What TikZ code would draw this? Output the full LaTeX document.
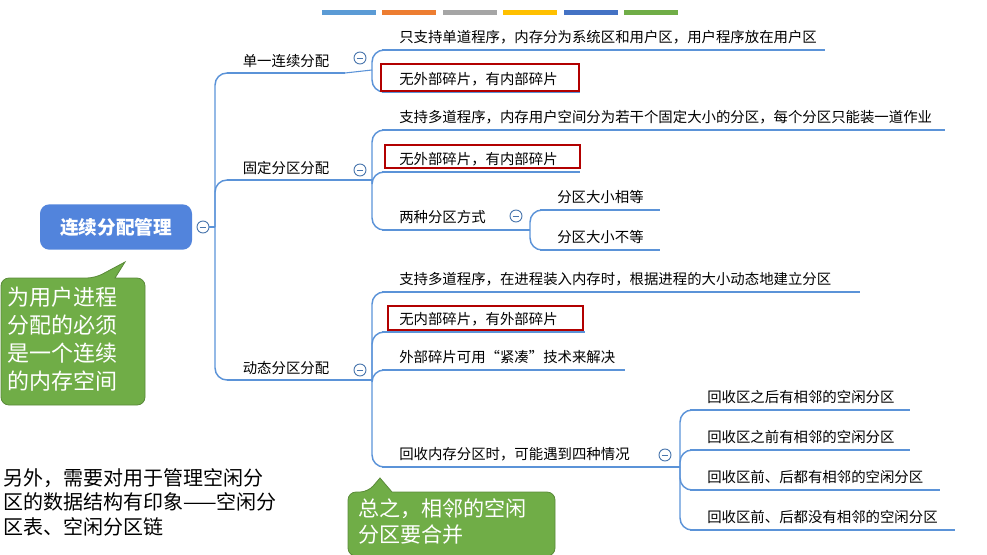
\documentclass[tikz,border=0pt]{standalone}
\usepackage{fontspec}
\setmainfont{Noto Sans CJK SC}
\begin{document}
\begin{tikzpicture}[x=0.75pt,y=-0.75pt,
  ul/.style={draw=lblue,line width=2.2pt},
  br/.style={draw=lblue,line width=1.1pt,rounded corners=9pt},
  leaf/.style={anchor=south west,inner sep=0pt,font=\fontsize{10.8}{12}\selectfont},
  redbox/.style={draw=red!70!black,line width=2pt},
  mins/.style={circle,draw=lblue!80!black,fill=white,line width=0.7pt,minimum size=9pt,inner sep=0pt},
  callout/.style={fill=cgreen,draw=cgreen!80!black,line width=0.6pt},
  ctext/.style={text=white,align=left,anchor=north west,inner sep=0pt}]
\definecolor{lblue}{HTML}{5B93D8}
\definecolor{cgreen}{HTML}{70AD47}
\useasboundingbox (0,0) rectangle (987,554);
% color bars
\foreach \x/\c in {322/5B9BD5,382/ED7D31,443/A5A5A5,503/FFC000,564/4472C4,624/70AD47}
  {\definecolor{tmp}{HTML}{\c}\fill[tmp] (\x,10) rectangle ++(54,5);}
% root
\node[fill=lblue!90!blue,rounded corners=7pt,minimum width=114pt,minimum height=34pt,text=white,font=\fontsize{14}{16}\selectfont\bfseries] (root) at (116,227) {连续分配管理};
\node[mins] (m0) at (203,227) {};
\draw[lblue!80!black,line width=0.7pt] ([xshift=-2.5pt]m0.center) -- ([xshift=2.5pt]m0.center);
\coordinate (t0) at (215,227);
\draw[lblue,line width=0.8pt] (m0.east) -- (t0);
% level1
\foreach \y/\name/\t in {73/b1/单一连续分配,180/b2/固定分区分配,380/b3/动态分区分配}{
  \draw[br] (t0) -- (215,\y) -- (240,\y);
  \draw[ul] (227,\y) -- (345,\y);
  \node[leaf,anchor=south] (\name) at (286,\y-5) {\t};
}
\foreach \x/\y/\p/\ya/\yb in {360/58/372/50/92,360/170/372/130/250,360/370/372/292/467,516/216/530/210/250,665/455/680/410/530}{
  \node[mins] (mm) at (\x,\y) {};
  \draw[lblue!80!black,line width=0.7pt] ([xshift=-2.5pt]mm.center) -- ([xshift=2.5pt]mm.center);
}
% level2 branches
\newcommand{\leafb}[5]{% px,py,y,x2,text
  \draw[br] (#1,#2) -- (#1,#3) -- (#1+20,#3);
  \draw[ul] (#1+10,#3) -- (#4,#3);
  \node[leaf] at (#1+27,#3-6) {#5};}
% single
\coordinate (p1) at (372,70);
\draw[lblue,line width=0.8pt] (345,73) -- (p1);
\leafb{372}{70}{50}{825}{只支持单道程序，内存分为系统区和用户区，用户程序放在用户区}
\leafb{372}{70}{92}{580}{无外部碎片，有内部碎片}
\draw[redbox] (381,64) rectangle (579,91);
% fixed
\coordinate (p2) at (372,180);
\draw[lblue,line width=0.8pt] (345,180) -- (p2);
\leafb{372}{180}{130}{945}{支持多道程序，内存用户空间分为若干个固定大小的分区，每个分区只能装一道作业}
\leafb{372}{180}{172}{580}{无外部碎片，有内部碎片}
\draw[redbox] (385,145) rectangle (580,168);
\leafb{372}{180}{230}{505}{两种分区方式}
\coordinate (p3) at (530,230);
\draw[lblue,line width=0.8pt] (505,230) -- (p3);
\leafb{530}{230}{210}{660}{分区大小相等}
\leafb{530}{230}{250}{660}{分区大小不等}
% dynamic
\coordinate (p4) at (372,380);
\draw[lblue,line width=0.8pt] (345,380) -- (p4);
\leafb{372}{380}{292}{860}{支持多道程序，在进程装入内存时，根据进程的大小动态地建立分区}
\leafb{372}{380}{332}{585}{无内部碎片，有外部碎片}
\draw[redbox] (388,306) rectangle (583,330);
\leafb{372}{380}{370}{625}{外部碎片可用“紧凑”技术来解决}
\leafb{372}{380}{467}{650}{回收内存分区时，可能遇到四种情况}
\coordinate (p5) at (680,467);
\draw[lblue,line width=0.8pt] (650,467) -- (p5);
\leafb{680}{467}{410}{910}{回收区之后有相邻的空闲分区}
\leafb{680}{467}{450}{910}{回收区之前有相邻的空闲分区}
\leafb{680}{467}{490}{940}{回收区前、后都有相邻的空闲分区}
\leafb{680}{467}{530}{955}{回收区前、后都没有相邻的空闲分区}
% callouts
\draw[callout,rounded corners=6pt] (1,278) -- (95,278) [sharp corners]-- (125,262) -- (115,278) [rounded corners=6pt] -- (145,278) -- (145,405) -- (1,405) -- cycle;
\node[ctext,font=\fontsize{16.5}{21}\selectfont] (c1) at (7,287) {为用户进程\\分配的必须\\是一个连续\\的内存空间};
\draw[callout,rounded corners=6pt] (348,492) -- (368,492) [sharp corners]-- (380,478) -- (392,492) [rounded corners=6pt] -- (555,492) -- (555,556) -- (348,556) -- cycle;
\node[ctext,font=\fontsize{15.8}{20}\selectfont] (c2) at (358,498) {总之，相邻的空闲\\分区要合并};
\node[anchor=north west,inner sep=0pt,align=left,font=\fontsize{15}{18.5}\selectfont] (note) at (3,468) {另外，需要对用于管理空闲分\\区的数据结构有印象——空闲分\\区表、空闲分区链};
\end{tikzpicture}
\end{document}
